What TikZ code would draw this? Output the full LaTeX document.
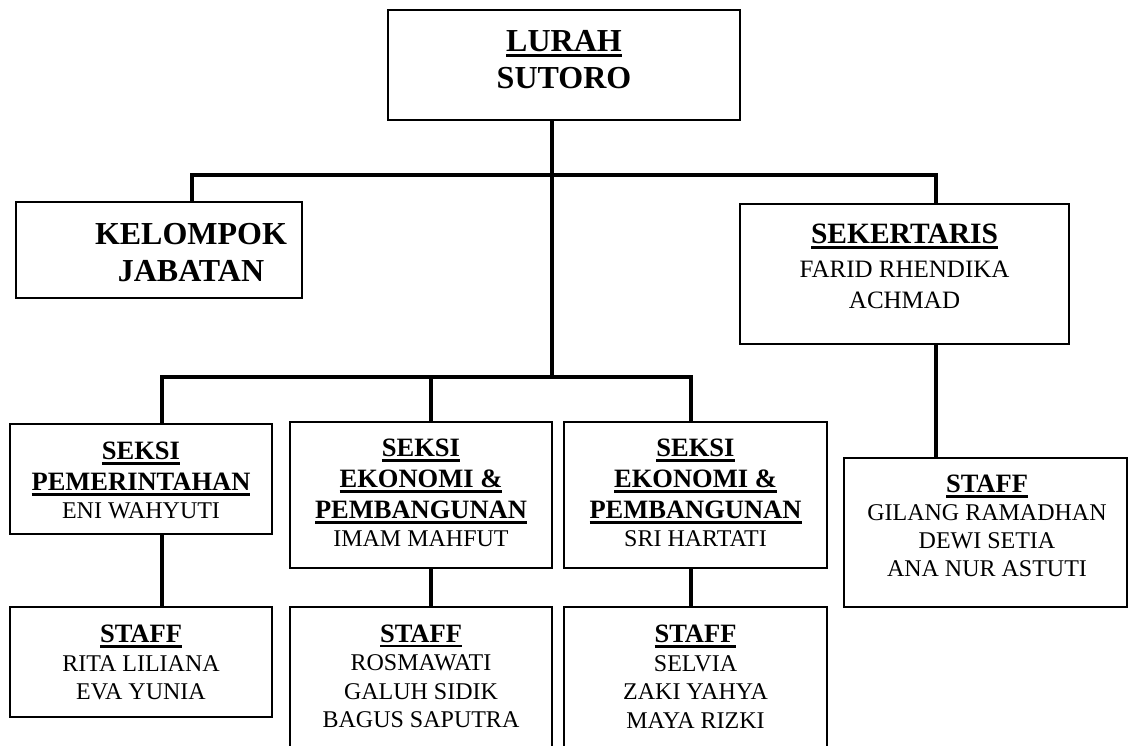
\documentclass[tikz,border=0pt]{standalone}
\usepackage{fontspec}
\setmainfont{Liberation Serif}
\newcommand\ulx[1]{\leavevmode\setbox0=\hbox{#1}\rlap{\rule[-0.19em]{\wd0}{0.1em}}\box0}
\newcommand\hb[2]{{\fontsize{#1}{28}\selectfont\bfseries\ulx{#2}}}
\begin{document}
\begin{tikzpicture}[x=1pt,y=-1pt,
  box/.style={draw,line width=1.4pt,rectangle,inner sep=0pt},
  txt/.style={inner sep=0pt,align=center},
  conn/.style={line width=3.5pt},
  names/.style={font=\fontsize{24}{28}\selectfont},
  staffnames/.style={font=\fontsize{24}{28.5}\selectfont}]
\fill[white] (0,0) rectangle (1129,745);
\useasboundingbox (0,0) rectangle (1129,745);
\clip (0,0) rectangle (1129,745);

% boxes
\node[box,minimum width=352pt,minimum height=110pt] (lurah) at (564,65) {};
\node[box,minimum width=286pt,minimum height=96pt] (kel) at (159,250) {};
\node[box,minimum width=329pt,minimum height=140pt] (sek) at (904.5,274) {};
\node[box,minimum width=262pt,minimum height=110pt] (s1) at (141,479) {};
\node[box,minimum width=262pt,minimum height=146pt] (s2) at (421,495) {};
\node[box,minimum width=263pt,minimum height=146pt] (s3) at (695.5,495) {};
\node[box,minimum width=283pt,minimum height=149pt] (staffR) at (985.5,532.5) {};
\node[box,minimum width=262pt,minimum height=110pt] (st1) at (141,662) {};
\node[box,minimum width=262pt,minimum height=145pt] (st2) at (421,679.5) {};
\node[box,minimum width=263pt,minimum height=145pt] (st3) at (695.5,679.5) {};

% texts
\node[txt,font=\fontsize{32}{37}\selectfont\bfseries] (lurahT) at (564,59.5) {\ulx{LURAH}\\SUTORO};
\node[txt,font=\fontsize{32}{37}\selectfont\bfseries] (kelT) at (191,253) {KELOMPOK\\JABATAN};
\node[txt,font=\fontsize{25}{31}\selectfont] (sekT) at (904.5,266.5)
  {{\fontsize{29.5}{31}\selectfont\bfseries\ulx{SEKERTARIS}}\\[3pt]FARID RHENDIKA\\ACHMAD};
\node[txt,names] (s1T) at (141,480.5) {\hb{26.5}{SEKSI}\\[3pt]\hb{26.5}{PEMERINTAHAN}\\ENI WAHYUTI};
\node[txt,names] (s2T) at (421,493) {\hb{26.5}{SEKSI}\\[3pt]\hb{26.5}{EKONOMI \&}\\[3pt]\hb{26.5}{PEMBANGUNAN}\\IMAM MAHFUT};
\node[txt,names] (s3T) at (695.5,493) {\hb{26.5}{SEKSI}\\[3pt]\hb{26.5}{EKONOMI \&}\\[3pt]\hb{26.5}{PEMBANGUNAN}\\SRI HARTATI};
\node[txt,names] (staffRT) at (987,526) {\hb{26.5}{STAFF}\\GILANG RAMADHAN\\DEWI SETIA\\ANA NUR ASTUTI};
\node[txt,staffnames] (st1T) at (141,662.5) {\hb{26.5}{STAFF}\\RITA LILIANA\\EVA YUNIA};
\node[txt,staffnames] (st2T) at (421,676.5) {\hb{26.5}{STAFF}\\ROSMAWATI\\GALUH SIDIK\\BAGUS SAPUTRA};
\node[txt,staffnames] (st3T) at (695.5,676.5) {\hb{26.5}{STAFF}\\SELVIA\\ZAKI YAHYA\\MAYA RIZKI};

% connector coordinates
\coordinate (busL) at (192,175);
\coordinate (busR) at (936,175);
\coordinate (trunk) at (552,377);
\coordinate (b1) at (162,377);
\coordinate (b2) at (431,377);
\coordinate (b3) at (691,377);

% connectors
\draw[conn] (lurah.south -| trunk) -- (trunk);
\draw[conn] (kel.north -| busL) |- (busR) -- (sek.north -| busR);
\draw[conn] (s1.north -| b1) |- (b3) -- (s3.north -| b3);
\draw[conn] (b2) -- (s2.north -| b2);
\draw[conn] (s1.south -| b1) -- (st1.north -| b1);
\draw[conn] (s2.south -| b2) -- (st2.north -| b2);
\draw[conn] (s3.south -| b3) -- (st3.north -| b3);
\draw[conn] (sek.south -| busR) -- (staffR.north -| busR);
\end{tikzpicture}
\end{document}
